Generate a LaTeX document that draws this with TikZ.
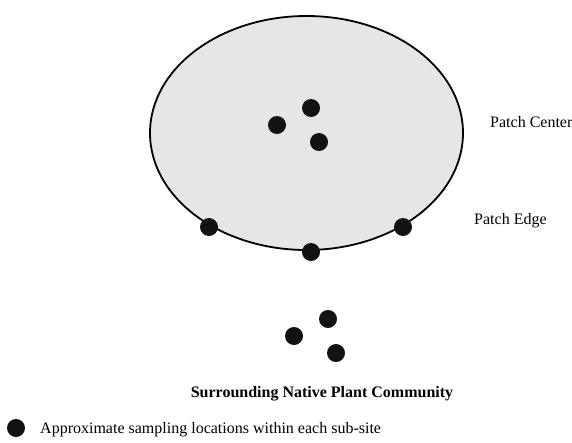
\documentclass[tikz,border=0pt]{standalone}
\usepackage{fontspec}
\setmainfont{Liberation Serif}
\definecolor{patchgray}{RGB}{229,230,232}
\begin{document}
\begin{tikzpicture}[x=1pt, y=-1pt,
    dot/.style={circle, fill=black!93, inner sep=0pt, minimum size=18pt},
    lbl/.style={font=\fontsize{16}{19}\selectfont, inner sep=0pt}]
    \useasboundingbox (0,0) rectangle (572,442);

    % Patch
    \draw[line width=1.8pt, fill=patchgray] (306.5,133) ellipse (156.5 and 117);

    % Patch center points
    \node[dot] (c1) at (311,108) {};
    \node[dot] (c2) at (277,125) {};
    \node[dot] (c3) at (319,142) {};

    % Patch edge points
    \node[dot] (e1) at (209,227) {};
    \node[dot] (e2) at (311,252) {};
    \node[dot] (e3) at (403,227) {};

    % Surrounding points
    \node[dot] (s1) at (328,319) {};
    \node[dot] (s2) at (294,336) {};
    \node[dot] (s3) at (336,353) {};

    % Labels
    \node[lbl, anchor=base west] (center) at (490,127) {Patch Center};
    \node[lbl, anchor=base west] (edge) at (474,224) {Patch Edge};
    \node[lbl, anchor=base, font=\fontsize{16}{19}\selectfont\bfseries] (native) at (322,397) {Surrounding Native Plant Community};

    % Legend
    \node[dot] (key) at (16,428) {};
    \node[lbl, anchor=base west] (keytext) at (40,433) {Approximate sampling locations within each sub-site};
\end{tikzpicture}
\end{document}
